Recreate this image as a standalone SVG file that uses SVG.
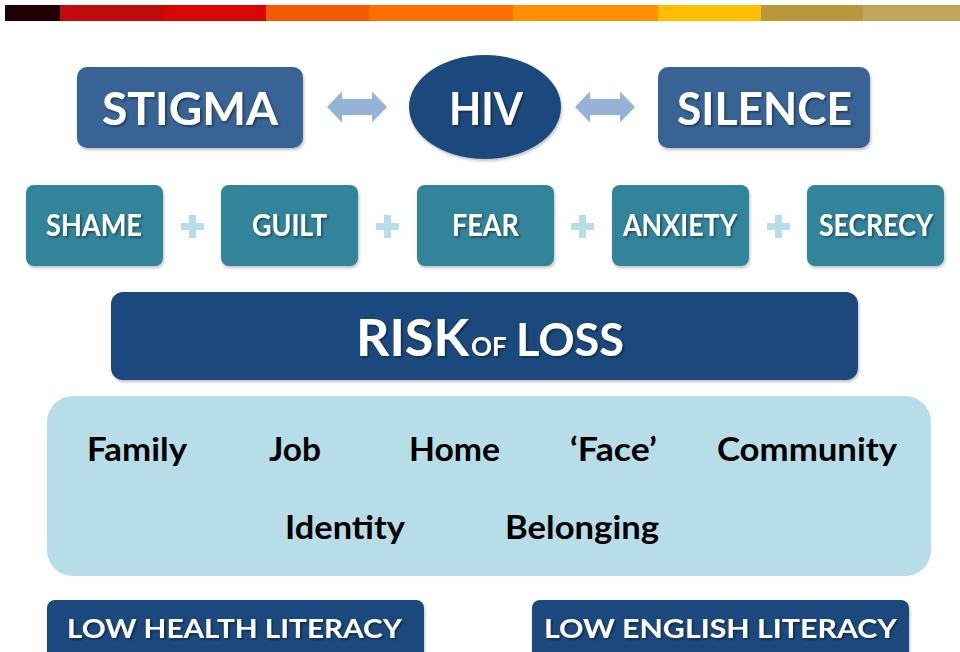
<svg xmlns="http://www.w3.org/2000/svg" width="960" height="652" viewBox="0 0 960 652">
<defs>
<filter id="ts" x="-10%" y="-20%" width="130%" height="160%">
<feDropShadow dx="1.5" dy="1.5" stdDeviation="1" flood-color="#000" flood-opacity="0.45"/>
</filter>
<filter id="bs" x="-5%" y="-10%" width="115%" height="130%">
<feDropShadow dx="1" dy="2" stdDeviation="1.5" flood-color="#000" flood-opacity="0.25"/>
</filter>
<style>
.t{font-family:Lato,"Open Sans","Liberation Sans",sans-serif;font-weight:700}
.w{fill:#fff;filter:url(#ts)}
.k{fill:#000}
.b1{fill:#386495;filter:url(#bs)}
.dk{fill:#1f497d;filter:url(#bs)}
.tl{fill:#31849b;filter:url(#bs)}
.lb{fill:#b7dde8}
.ar{fill:#95b3d7}
</style>
</defs>
<rect width="960" height="652" fill="#fff"/>
<g id="colorbar">
<rect x="5" y="5" width="55" height="16" fill="#1f0005"/>
<rect x="60" y="5" width="103" height="16" fill="#c00b0b"/>
<rect x="163" y="5" width="103" height="16" fill="#d90606"/>
<rect x="266" y="5" width="103" height="16" fill="#f25a02"/>
<rect x="369" y="5" width="144" height="16" fill="#ff6f00"/>
<rect x="513" y="5" width="145" height="16" fill="#ff8f00"/>
<rect x="658" y="5" width="103" height="16" fill="#ffbf00"/>
<rect x="761" y="5" width="102" height="16" fill="#b89838"/>
<rect x="863" y="5" width="97" height="16" fill="#c2a65f"/>
</g>
<g id="stigma">
<rect class="b1" x="77" y="67" width="226" height="81" rx="10"/>
<text class="t w" x="102" y="125" font-size="46" textLength="176" lengthAdjust="spacingAndGlyphs">STIGMA</text>
</g>
<g id="hiv">
<ellipse class="dk" cx="485" cy="107" rx="76" ry="52"/>
<text class="t w" x="449" y="125" font-size="46" textLength="74" lengthAdjust="spacingAndGlyphs">HIV</text>
</g>
<g id="silence">
<rect class="b1" x="658" y="67" width="212" height="81" rx="10"/>
<text class="t w" x="677" y="125" font-size="46" textLength="175" lengthAdjust="spacingAndGlyphs">SILENCE</text>
</g>
<g id="connectors">
<path class="ar" d="M327,107 L342,91.5 L342,99 L372,99 L372,91.5 L387,107 L372,122.5 L372,115 L342,115 L342,122.5 Z"/>
<path class="ar" d="M575,107 L590,91.5 L590,99 L620,99 L620,91.5 L635,107 L620,122.5 L620,115 L590,115 L590,122.5 Z"/>
</g>
<g id="shame">
<rect class="tl" x="26" y="185" width="137" height="81" rx="8"/>
<text class="t w" x="46" y="236" font-size="30" textLength="96" lengthAdjust="spacingAndGlyphs">SHAME</text>
</g>
<g id="guilt">
<rect class="tl" x="221" y="185" width="137" height="81" rx="8"/>
<text class="t w" x="252" y="236" font-size="30" textLength="75" lengthAdjust="spacingAndGlyphs">GUILT</text>
</g>
<g id="fear">
<rect class="tl" x="417" y="185" width="137" height="81" rx="8"/>
<text class="t w" x="452" y="236" font-size="30" textLength="67" lengthAdjust="spacingAndGlyphs">FEAR</text>
</g>
<g id="anxiety">
<rect class="tl" x="612" y="185" width="137" height="81" rx="8"/>
<text class="t w" x="623" y="236" font-size="30" textLength="114" lengthAdjust="spacingAndGlyphs">ANXIETY</text>
</g>
<g id="secrecy">
<rect class="tl" x="807" y="185" width="137" height="81" rx="8"/>
<text class="t w" x="819" y="236" font-size="30" textLength="114" lengthAdjust="spacingAndGlyphs">SECRECY</text>
</g>
<g id="plus-signs" class="lb">
<path d="M189,215 h7 v8 h8 v7 h-8 v8 h-7 v-8 h-8 v-7 h8 Z"/>
<path d="M384,215 h7 v8 h8 v7 h-8 v8 h-7 v-8 h-8 v-7 h8 Z"/>
<path d="M579,215 h7 v8 h8 v7 h-8 v8 h-7 v-8 h-8 v-7 h8 Z"/>
<path d="M775,215 h7 v8 h8 v7 h-8 v8 h-7 v-8 h-8 v-7 h8 Z"/>
</g>
<g id="risk-of-loss">
<rect class="dk" x="111" y="292" width="747" height="88" rx="12"/>
<text class="t w" y="356"><tspan x="356" font-size="52">RISK</tspan><tspan x="471" font-size="26">OF</tspan><tspan x="516" font-size="45">LOSS</tspan></text>
</g>
<g id="losses">
<rect class="lb" x="47" y="396" width="884" height="180" rx="26"/>
<g class="t k" font-size="32">
<text x="87" y="461" textLength="100" lengthAdjust="spacingAndGlyphs">Family</text>
<text x="269" y="461" textLength="52" lengthAdjust="spacingAndGlyphs">Job</text>
<text x="409" y="461" textLength="91" lengthAdjust="spacingAndGlyphs">Home</text>
<text x="570" y="461" textLength="87" lengthAdjust="spacingAndGlyphs">‘Face’</text>
<text x="717" y="461" textLength="180" lengthAdjust="spacingAndGlyphs">Community</text>
<text x="285" y="539" textLength="120" lengthAdjust="spacingAndGlyphs">Identity</text>
<text x="505" y="539" textLength="154" lengthAdjust="spacingAndGlyphs">Belonging</text>
</g>
</g>
<g id="low-health-literacy">
<rect class="dk" x="47" y="600" width="377" height="70" rx="8"/>
<text class="t w" x="67" y="638" font-size="26" textLength="335" lengthAdjust="spacingAndGlyphs">LOW HEALTH LITERACY</text>
</g>
<g id="low-english-literacy">
<rect class="dk" x="532" y="600" width="377" height="70" rx="8"/>
<text class="t w" x="544" y="638" font-size="26" textLength="353" lengthAdjust="spacingAndGlyphs">LOW ENGLISH LITERACY</text>
</g>
</svg>
